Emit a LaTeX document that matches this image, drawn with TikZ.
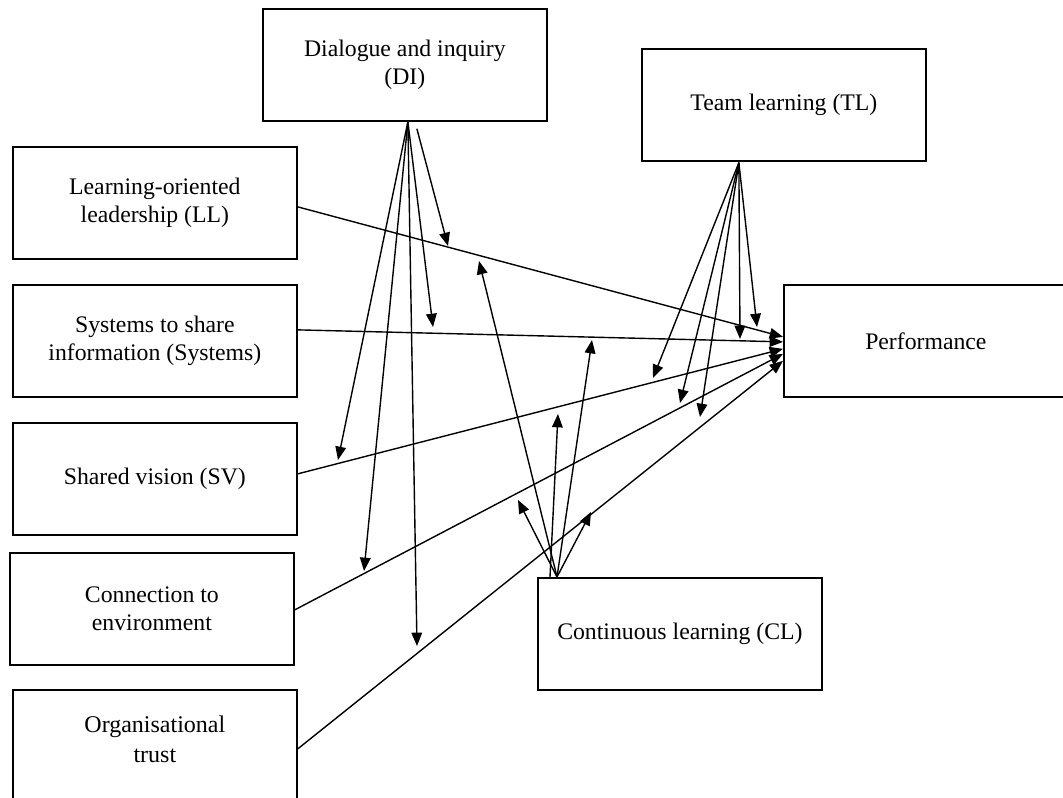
\documentclass[tikz,border=0pt]{standalone}
\usepackage{fontspec}
\setmainfont{Liberation Serif}
\usetikzlibrary{arrows.meta,calc}
\begin{document}
\begin{tikzpicture}[x=0.75pt,y=-0.75pt,
  box/.style={draw,line width=1.3pt,minimum width=213pt,minimum height=84pt,
    align=center,inner sep=0pt,anchor=north west,
    font=\fontsize{17.8}{20.5}\selectfont},
  arr/.style={line width=1.05pt,-{Triangle[length=10pt,width=8pt]}},
  ln/.style={line width=1.05pt}]
\clip (0,0) rectangle (1063,798);
\fill[white] (0,0) rectangle (1063,798);
% boxes
\node[box] (DI) at (262,8) {Dialogue and inquiry\\(DI)};
\node[box] (TL) at (641,48) {Team learning (TL)};
\node[box] (LL) at (12,146) {Learning-oriented\\leadership (LL)};
\node[box] (Sys) at (12,284) {Systems to share\\information (Systems)};
\node[box] (SV) at (12,422) {Shared vision (SV)};
\node[box] (Con) at (9,552) {Connection to\\environment};
\node[box,minimum height=90pt,text depth=16pt,font=\fontsize{18}{22.5}\selectfont] (Org) at (12,689) {Organisational\\trust};
\node[box] (Perf) at (783,284) {Performance};
\node[box] (CL) at (537,577) {Continuous learning (CL)};
% predictors to performance
\draw[arr] ($(LL.east)+(0,4)$) -- ($(Perf.west)+(0,-4)$);
\draw[arr] ($(Sys.east)+(0,-11)$) -- ($(Perf.west)+(0,1)$);
\draw[arr] ($(SV.east)+(0,-5)$) -- ($(Perf.west)+(0,8)$);
\draw[arr] ($(Con.east)+(0,1)$) -- ($(Perf.west)+(0,13)$);
\draw[arr] ($(Org.east)+(0,-1)$) -- ($(Perf.west)+(0,20)$);
% DI moderating arrows
\coordinate (dia) at ($(DI.south)+(3,0)$);
\coordinate (dib) at ($(DI.south)+(12,7)$);
\coordinate (d1) at (448,246);
\coordinate (d2) at (433,327);
\coordinate (d3) at (338,460);
\coordinate (d4) at (364,571);
\coordinate (d5) at (417,646);
\draw[arr] (dib) -- (d1);
\foreach \t in {d2,d3,d4,d5} \draw[arr] (dia) -- (\t);
% TL moderating arrows
\coordinate (tla) at ($(TL.south)+(-45,1)$);
\coordinate (t1) at (757,327);
\coordinate (t2) at (740,339);
\coordinate (t3) at (653,378);
\coordinate (t4) at (680,403);
\coordinate (t5) at (700,417);
\foreach \t in {t1,t2,t3,t4,t5} \draw[arr] (tla) -- (\t);
% CL moderating arrows
\coordinate (cla) at ($(CL.north west)+(20,0)$);
\coordinate (clb) at ($(CL.north west)+(13,0)$);
\coordinate (c1) at (479,261);
\coordinate (c2) at (592,340);
\coordinate (c3) at (558,414);
\coordinate (c4) at (518,500);
\coordinate (c5) at (591,512);
\draw[arr] (clb) -- (c3);
\foreach \t in {c1,c2,c4,c5} \draw[arr] (cla) -- (\t);
\end{tikzpicture}
\end{document}
